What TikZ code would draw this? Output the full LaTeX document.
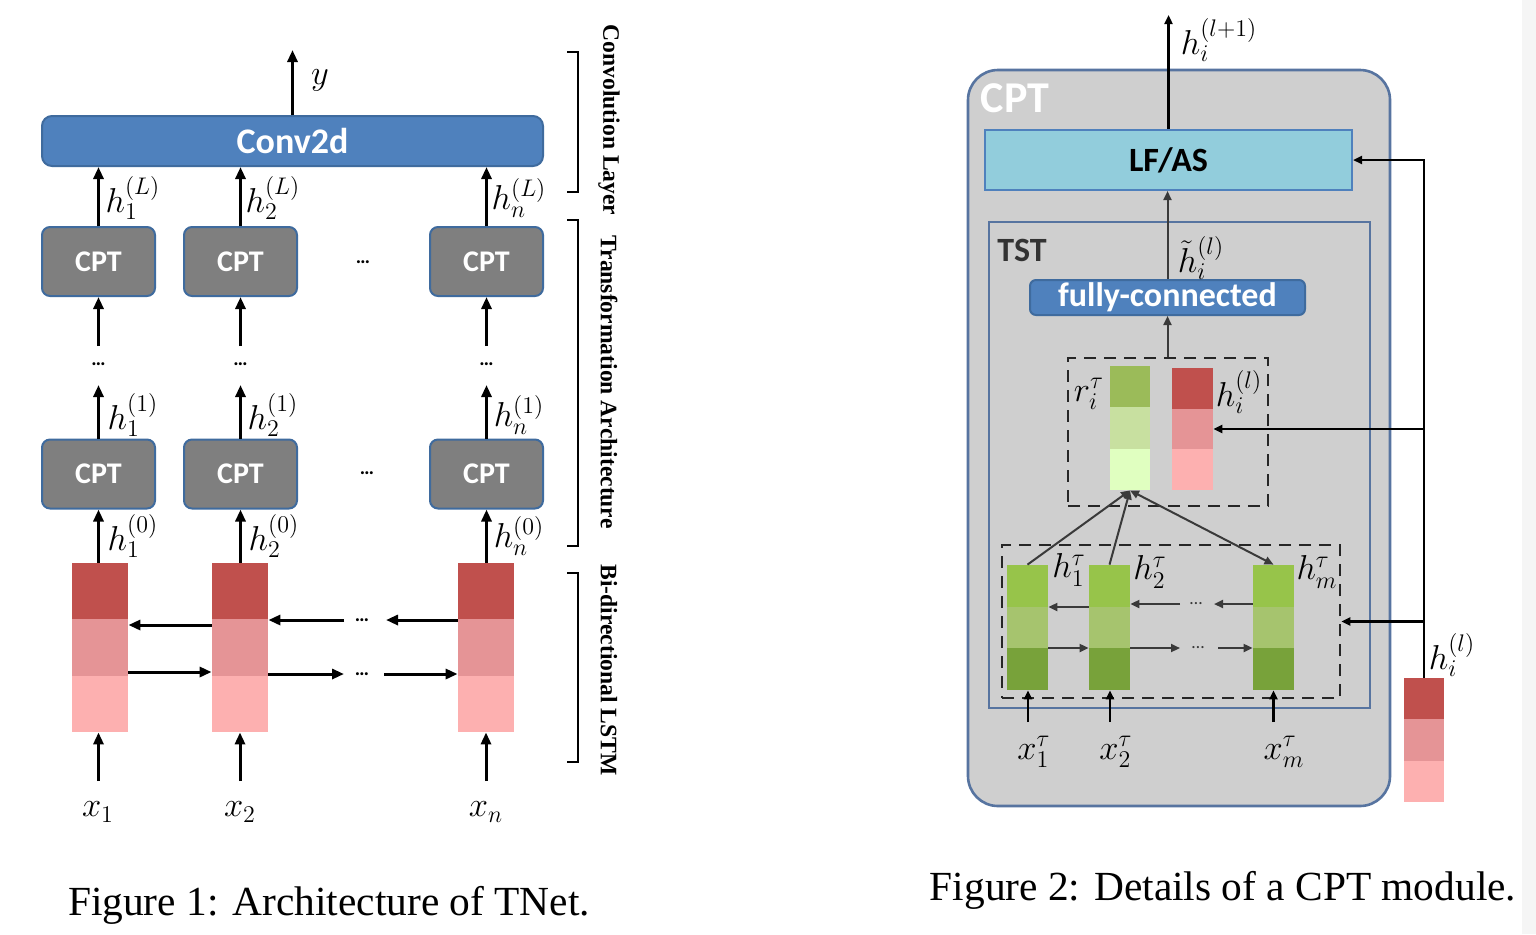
\documentclass[tikz,border=0pt]{standalone}
\usepackage{fontspec}
\usetikzlibrary{arrows.meta,calc}
\newfontfamily\calfnt{Carlito}
\newfontfamily\tmsfnt{Liberation Serif}
\definecolor{blueA}{HTML}{4F81BD}
\definecolor{blueB}{HTML}{3F6B9E}
\definecolor{blueC}{HTML}{5774A0}
\definecolor{cptgray}{HTML}{7F7F7F}
\definecolor{outgray}{HTML}{CFCFCF}
\definecolor{lfas}{HTML}{92CDDC}
\definecolor{redA}{HTML}{C0504D}
\definecolor{redB}{HTML}{E59496}
\definecolor{redC}{HTML}{FDB0B0}
\definecolor{grA}{HTML}{9BBB59}
\definecolor{grB}{HTML}{C8E0A0}
\definecolor{grC}{HTML}{E0FFC0}
\definecolor{gdA}{HTML}{97C44A}
\definecolor{gdB}{HTML}{A6C46E}
\definecolor{gdC}{HTML}{78A23A}
\definecolor{darr}{HTML}{3A3A3A}
\tikzset{
  stack/.style n args={3}{draw=none, inner sep=0pt,
    path picture={
      \fill[#1] (path picture bounding box.north west) rectangle ($(path picture bounding box.north east)!1/3!(path picture bounding box.south east)$);
      \fill[#2] ($(path picture bounding box.north west)!1/3!(path picture bounding box.south west)$) rectangle ($(path picture bounding box.north east)!2/3!(path picture bounding box.south east)$);
      \fill[#3] ($(path picture bounding box.north west)!2/3!(path picture bounding box.south west)$) rectangle (path picture bounding box.south east);
    }},
  redstack/.style={stack={redA}{redB}{redC}},
  lgstack/.style={stack={grA}{grB}{grC}},
  dgstack/.style={stack={gdA}{gdB}{gdC}},
  cptbox/.style={draw=blueB, line width=1pt, fill=cptgray, rounded corners=4pt,
    minimum width=56.5pt, minimum height=34.5pt, inner sep=0pt,
    text=white, font=\calfnt\bfseries\fontsize{15}{18}\selectfont},
  arr/.style={-{Triangle[length=6pt,width=5pt]}, line width=1.5pt},
  rarr/.style={-{Triangle[length=4.5pt,width=4pt]}, line width=1pt, draw=darr},
  karr/.style={-{Triangle[length=4.5pt,width=4pt]}, line width=1.1pt, draw=black},
  lbl/.style={font=\fontsize{16.5}{18}\selectfont, inner sep=0pt},
  dotlbl/.style={font=\calfnt\bfseries\fontsize{10}{11}\selectfont, inner sep=0pt},
  gdotlbl/.style={font=\calfnt\fontsize{9}{10}\selectfont, text=darr, inner sep=0pt},
  brk/.style={line width=1.2pt},
  vlab/.style={rotate=-90, font=\tmsfnt\bfseries\fontsize{11.8}{13}\selectfont, inner sep=0pt},
  dbox/.style={draw=black!85, dashed, dash pattern=on 6pt off 4pt, line width=1.3pt, inner sep=0pt},
  captxt/.style={font=\tmsfnt\fontsize{20.7}{24}\selectfont, inner sep=0pt}
}
\begin{document}
\begin{tikzpicture}[x=0.5pt,y=-0.5pt]
\useasboundingbox (0,0) rectangle (1536,934);
\fill[white] (0,0) rectangle (1536,934);
\fill[black!4] (1522,0) rectangle (1536,934);

% ================= Figure 1 =================
\node[draw=blueB, line width=1pt, fill=blueA, rounded corners=5pt, minimum width=250.5pt, minimum height=25pt,
  text=white, font=\calfnt\bfseries\fontsize{18}{21}\selectfont] (conv) at (292.5,141) {Conv2d};
\coordinate (yout) at (292.5,50);
\draw[arr] (conv.north) -- (yout);
\node[lbl] (ylab) at (320,80) {$y$};

\node[cptbox] (Ct1) at (98.5,261.5) {CPT};
\node[cptbox] (Ct2) at (240.5,261.5) {CPT};
\node[cptbox] (Ctn) at (486.5,261.5) {CPT};
\node[dotlbl] (dt) at (363,262) {…};

\node[cptbox] (Cb1) at (98.5,474) {CPT};
\node[cptbox] (Cb2) at (240.5,474) {CPT};
\node[cptbox] (Cbn) at (486.5,474) {CPT};
\node[dotlbl] (db) at (367,473) {…};

\node[redstack, minimum width=28pt, minimum height=84.5pt] (L1) at (100,647.5) {};
\node[redstack, minimum width=28pt, minimum height=84.5pt] (L2) at (240,647.5) {};
\node[redstack, minimum width=28pt, minimum height=84.5pt] (Ln) at (486,647.5) {};

% top arrows into conv
\draw[arr] (Ct1.north) -- (conv.south -| Ct1.north);
\draw[arr] (Ct2.north) -- (conv.south -| Ct2.north);
\draw[arr] (Ctn.north) -- (conv.south -| Ctn.north);
\node[lbl] at (133,198) {$h_1^{(L)}$};
\node[lbl] at (273,198) {$h_2^{(L)}$};
\node[lbl] at (519,198) {$h_n^{(L)}$};

% dots between layers
\node[dotlbl] (v1) at (98.5,364) {…};
\node[dotlbl] (v2) at (240.5,364) {…};
\node[dotlbl] (vn) at (486.5,364) {…};
\coordinate (s1) at (98.5,346);
\coordinate (s2) at (240.5,346);
\coordinate (sn) at (486.5,346);
\draw[arr] (s1) -- (Ct1.south);
\draw[arr] (s2) -- (Ct2.south);
\draw[arr] (sn) -- (Ctn.south);
\coordinate (t1) at (98.5,385);
\coordinate (t2) at (240.5,385);
\coordinate (tn) at (486.5,385);
\draw[arr] (Cb1.north) -- (t1);
\draw[arr] (Cb2.north) -- (t2);
\draw[arr] (Cbn.north) -- (tn);
\node[lbl] at (133,415) {$h_1^{(1)}$};
\node[lbl] at (273,415) {$h_2^{(1)}$};
\node[lbl] at (519,415) {$h_n^{(1)}$};

% LSTM to CPT
\draw[arr] (L1.north -| Cb1) -- (Cb1.south);
\draw[arr] (L2.north -| Cb2) -- (Cb2.south);
\draw[arr] (Ln.north -| Cbn) -- (Cbn.south);
\node[lbl] at (133,536) {$h_1^{(0)}$};
\node[lbl] at (274,536) {$h_2^{(0)}$};
\node[lbl] at (519,536) {$h_n^{(0)}$};

% LSTM horizontal
\node[dotlbl] (bd) at (362,620) {…};
\node[dotlbl] (fd) at (362,674) {…};
\draw[arr] (L2.west |- 0,625) -- (L1.east |- 0,625);
\draw[arr] (Ln.west |- bd) -- ($(bd)+(24,0)$);
\draw[arr] ($(bd)+(-18,0)$) -- (L2.east |- bd);
\draw[arr] (L1.east |- 0,672) -- (L2.west |- 0,672);
\draw[arr] (L2.east |- fd) -- ($(fd)+(-18,0)$);
\draw[arr] ($(fd)+(22,0)$) -- (Ln.west |- fd);

% inputs
\node[lbl] (x1) at (98,812) {$x_1$};
\node[lbl] (x2) at (240,812) {$x_2$};
\node[lbl] (xn) at (486,812) {$x_n$};
\coordinate (i1) at (98.5,781);
\coordinate (i2) at (240,781);
\coordinate (in) at (486,781);
\draw[arr] (i1) -- (L1.south -| i1);
\draw[arr] (i2) -- (L2.south -| i2);
\draw[arr] (in) -- (Ln.south -| in);

% brackets
\draw[brk] (567,52) -- (578,52) -- (578,192) -- (567,192);
\draw[brk] (567,220) -- (578,220) -- (578,546) -- (567,546);
\draw[brk] (567,573) -- (578,573) -- (578,762) -- (567,762);
\node[vlab] at (609,120) {Convolution Layer};
\node[vlab] at (609,382) {Transformation Architecture};
\node[vlab] at (609,670) {Bi-directional LSTM};

\node[captxt] at (329,905) {Figure 1: Architecture of TNet.};

% ================= Figure 2 =================
\node[draw=blueC, line width=1.3pt, fill=outgray, rounded corners=15pt, minimum width=211pt, minimum height=368pt] (cpt) at (1179,438) {};
\node[text=white, font=\calfnt\bfseries\fontsize{22}{26}\selectfont, inner sep=0pt] (cptlab) at (1015,98) {CPT};

\node[draw=blueA, line width=1pt, fill=lfas, minimum width=183.5pt, minimum height=30pt, inner sep=0pt,
  font=\calfnt\bfseries\fontsize{17}{20}\selectfont] (lf) at (1168.5,160) {LF/AS};
\coordinate (hout) at (1168.5,15);
\draw[karr] (lf.north) -- (hout);
\node[lbl] at (1219,40) {$h_i^{(l+1)}$};

\node[draw=blueC, line width=1pt, minimum width=190.5pt, minimum height=243pt, inner sep=0pt] (tst) at (1179.5,465) {};
\node[text=black!80, font=\calfnt\bfseries\fontsize{17}{20}\selectfont, inner sep=0pt] (tstlab) at (1022,250) {TST};

\node[draw=blueB, line width=1pt, fill=blueA, rounded corners=3pt, minimum width=137.5pt, minimum height=17.5pt, inner sep=0pt,
  text=white, font=\calfnt\bfseries\fontsize{17}{20}\selectfont] (fc) at (1167.5,297.5) {fully-connected};
\draw[rarr] (fc.north) -- (lf.south -| fc.north);
\node[lbl] at (1201,258) {$\tilde{h}_i^{(l)}$};

\node[dbox, minimum width=100pt, minimum height=74pt] (db1) at (1168,432) {};
\draw[rarr] (db1.north -| fc) -- (fc.south);
\node[lgstack, minimum width=20pt, minimum height=62pt] (r) at (1130,428) {};
\node[redstack, minimum width=20.5pt, minimum height=61pt] (hi) at (1192.5,429) {};
\node[lbl] at (1089,394) {$r_i^{\tau}$};
\node[lbl] at (1239,392) {$h_i^{(l)}$};

\node[dbox, minimum width=169pt, minimum height=76.5pt] (db2) at (1171,621.5) {};
\node[dgstack, minimum width=20.5pt, minimum height=62.5pt] (g1) at (1027.5,627.5) {};
\node[dgstack, minimum width=20.5pt, minimum height=62.5pt] (g2) at (1109.5,627.5) {};
\node[dgstack, minimum width=20.5pt, minimum height=62.5pt] (gm) at (1273.5,627.5) {};
\node[lbl] at (1069,570) {$h_1^{\tau}$};
\node[lbl] at (1150,572) {$h_2^{\tau}$};
\node[lbl] at (1317,572) {$h_m^{\tau}$};

% attention
\draw[rarr] (g1.north) -- (r.south);
\draw[rarr] (g2.north) -- (r.south);
\draw[rarr, {Triangle[length=4.5pt,width=4pt]}-{Triangle[length=4.5pt,width=4pt]}] (r.south) -- (gm.north);

% green horizontal
\node[gdotlbl] (gbd) at (1196,604) {…};
\node[gdotlbl] (gfd) at (1198,648) {…};
\draw[rarr] (g2.west |- 0,607) -- (g1.east |- 0,607);
\draw[rarr] ($(gbd)+(-16,0)$) -- (g2.east |- gbd);
\draw[rarr] (gm.west |- gbd) -- ($(gbd)+(18,0)$);
\draw[rarr] (g1.east |- 0,648) -- (g2.west |- 0,648);
\draw[rarr] (g2.east |- gfd) -- ($(gfd)+(-18,0)$);
\draw[rarr] ($(gfd)+(20,0)$) -- (gm.west |- gfd);

% green inputs
\coordinate (gi1) at (1028,722);
\coordinate (gi2) at (1110,722);
\coordinate (gim) at (1273.5,722);
\draw[karr] (gi1) -- (g1.south -| gi1);
\draw[karr] (gi2) -- (g2.south -| gi2);
\draw[karr] (gim) -- (gm.south -| gim);
\node[lbl] at (1034,752) {$x_1^{\tau}$};
\node[lbl] at (1116,752) {$x_2^{\tau}$};
\node[lbl] at (1284,752) {$x_m^{\tau}$};

% external h
\node[redstack, minimum width=20pt, minimum height=62pt] (he) at (1424,740) {};
\node[lbl] at (1452,655) {$h_i^{(l)}$};
\draw[karr] (he.north) |- (lf.east);
\draw[karr] (he.north |- hi.east) -- (hi.east);
\draw[karr] (he.north |- db2.east) -- (db2.east);

\node[captxt] at (1223,890) {Figure 2: Details of a CPT module.};
\end{tikzpicture}
\end{document}
